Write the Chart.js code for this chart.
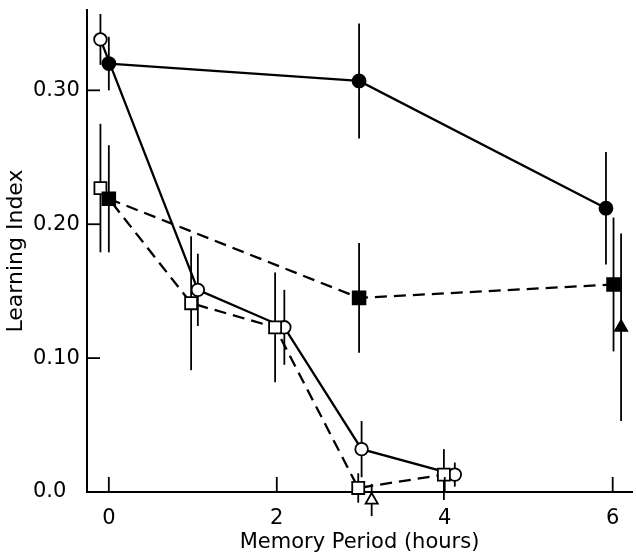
<!DOCTYPE html>
<html>
<head>
<meta charset="utf-8">
<script src="https://cdn.jsdelivr.net/npm/chart.js@4/dist/chart.umd.min.js"></script>
<style>
  body { margin: 0; background: #fff; }
  #wrap { width: 636px; height: 554px; position: relative; }
</style>
</head>
<body>
<div id="wrap"><canvas id="grafica"></canvas></div>
<script>
// ejes
const xTicks = [0, 2, 4, 6];
const yTicks = [0, 0.1, 0.2, 0.3];
const yTickLabels = ['0.0', '0.10', '0.20', '0.30'];

// circulos llenos
const xCircLleno = [0, 2.98, 5.92];
const yCircLleno = [0.32, 0.307, 0.212];
const eCircLleno = [0.02, 0.043, 0.042];

// circulos vacios
const xCircVacio = [-0.1, 1.06, 2.09, 3.01, 4.12];
const yCircVacio = [0.338, 0.151, 0.123, 0.032, 0.013];
const eCircVacio = [0.019, 0.027, 0.028, 0.021, 0.009];

// cuadrados vacios
const xCuadVacio = [-0.1, 0.98, 1.98, 2.97, 3.99];
const yCuadVacio = [0.227, 0.141, 0.123, 0.003, 0.013];
const eCuadVacio = [0.048, 0.05, 0.041, 0.011, 0.019];

// cuadrados llenos
const xCuadLleno = [0, 2.98, 6.01];
const yCuadLleno = [0.219, 0.145, 0.155];
const eCuadLleno = [0.04, 0.041, 0.05];

// triangulos
const xTriLleno = [6.1];
const yTriLleno = [0.123];
const eTriLleno = [0.07];
const xTriVacio = [3.13];
const yTriVacio = [-0.006];
const eTriVacio = [0.012];

function puntos(xs, ys, es) {
  return xs.map((x, i) => ({ x: x, y: ys[i], e: es[i] }));
}

function serie(xs, ys, es, estilo, lleno, radio, linea, guiones) {
  return {
    data: puntos(xs, ys, es),
    showLine: linea,
    borderColor: '#000',
    borderWidth: 2.3,
    borderDash: guiones ? [12, 7] : [],
    pointStyle: estilo,
    pointRadius: radio,
    pointBackgroundColor: lleno ? '#000' : '#fff',
    pointBorderColor: '#000',
    pointBorderWidth: 1.8,
    clip: false
  };
}

// barras de error y marcas hacia adentro
const extras = {
  id: 'extras',
  beforeDatasetsDraw(chart) {
    const ctx = chart.ctx;
    const xs = chart.scales.x, ys = chart.scales.y;
    ctx.save();
    ctx.strokeStyle = '#000';
    ctx.lineWidth = 1.8;
    chart.data.datasets.forEach(ds => {
      ds.data.forEach(p => {
        const px = xs.getPixelForValue(p.x);
        ctx.beginPath();
        ctx.moveTo(px, ys.getPixelForValue(p.y + p.e));
        ctx.lineTo(px, ys.getPixelForValue(p.y - p.e));
        ctx.stroke();
      });
    });
    ctx.restore();
  },
  afterDraw(chart) {
    const ctx = chart.ctx;
    const a = chart.chartArea;
    const xs = chart.scales.x, ys = chart.scales.y;
    ctx.save();
    ctx.strokeStyle = '#000';
    ctx.lineWidth = 1.8;
    xTicks.forEach(v => {
      const px = xs.getPixelForValue(v);
      ctx.beginPath();
      ctx.moveTo(px, a.bottom);
      ctx.lineTo(px, a.bottom - 15);
      ctx.stroke();
    });
    yTicks.slice(1).forEach(v => {
      const py = ys.getPixelForValue(v);
      ctx.beginPath();
      ctx.moveTo(a.left, py);
      ctx.lineTo(a.left + 13, py);
      ctx.stroke();
    });
    // titulo eje y
    ctx.fillStyle = '#000';
    ctx.font = '22px "DejaVu Sans"';
    ctx.textAlign = 'center';
    ctx.textBaseline = 'middle';
    ctx.translate(16, (a.top + a.bottom) / 2);
    ctx.rotate(-Math.PI / 2);
    ctx.fillText('Learning Index', 0, 0);
    ctx.restore();
  }
};

const ctx = document.getElementById('grafica').getContext('2d');
new Chart(ctx, {
  type: 'scatter',
  data: {
    datasets: [
      serie(xCircLleno, yCircLleno, eCircLleno, 'circle', true, 6.5, true, false),
      serie(xCuadLleno, yCuadLleno, eCuadLleno, 'rect', true, 9, true, true),
      serie(xCuadVacio, yCuadVacio, eCuadVacio, 'rect', false, 8.5, true, true),
      serie(xCircVacio, yCircVacio, eCircVacio, 'circle', false, 6.3, true, false),
      serie(xTriLleno, yTriLleno, eTriLleno, 'triangle', true, 7, false, false),
      serie(xTriVacio, yTriVacio, eTriVacio, 'triangle', false, 7, false, false)
    ]
  },
  options: {
    responsive: true,
    maintainAspectRatio: false,
    animation: false,
    layout: { autoPadding: false, padding: { left: 33, top: 10, right: 4, bottom: 0 } },
    plugins: { legend: { display: false }, tooltip: { enabled: false } },
    scales: {
      x: {
        type: 'linear',
        min: -0.26,
        max: 6.23,
        afterBuildTicks: s => { s.ticks = xTicks.map(v => ({ value: v })); },
        afterFit: s => { s.height = 62; s.paddingLeft = 0; s.paddingRight = 0; },
        grid: { display: false, drawTicks: false },
        border: { color: '#000', width: 2 },
        ticks: {
          color: '#000',
          padding: 14,
          font: { family: 'DejaVu Sans', size: 21 },
          callback: v => String(v)
        },
        title: {
          display: true,
          text: 'Memory Period (hours)',
          color: '#000',
          font: { family: 'DejaVu Sans', size: 21, lineHeight: 1.0 },
          padding: { top: 0, bottom: 1 }
        }
      },
      y: {
        type: 'linear',
        min: 0,
        max: 0.36,
        afterBuildTicks: s => { s.ticks = yTicks.map(v => ({ value: v })); },
        afterFit: s => { s.width = 54; s.paddingTop = 0; s.paddingBottom = 0; },
        grid: { display: false, drawTicks: false },
        border: { color: '#000', width: 2 },
        ticks: {
          color: '#000',
          crossAlign: 'far',
          padding: 6,
          font: { family: 'DejaVu Sans', size: 21 },
          callback: (v, i) => yTickLabels[i]
        }
      }
    }
  },
  plugins: [extras]
});
</script>
</body>
</html>
